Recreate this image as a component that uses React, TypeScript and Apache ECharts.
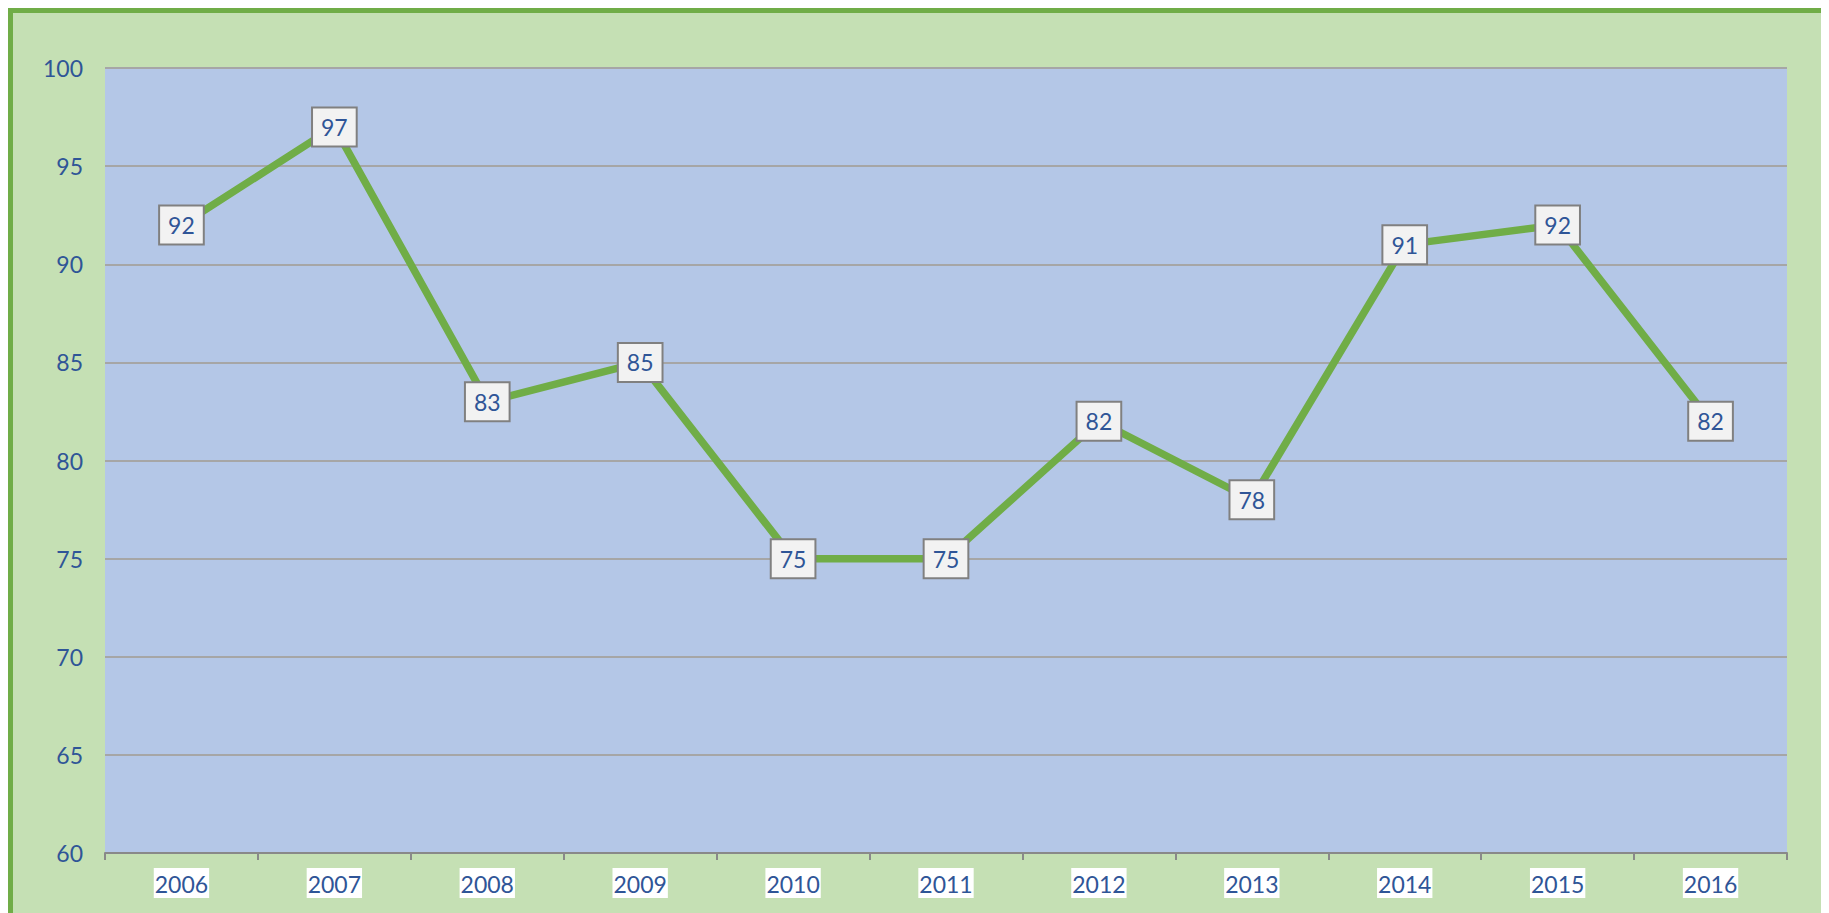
import React, { useEffect, useRef } from "react";
import * as echarts from "echarts";

const years = ["2006", "2007", "2008", "2009", "2010", "2011", "2012", "2013", "2014", "2015", "2016"];
const values = [92, 97, 83, 85, 75, 75, 82, 78, 91, 92, 82];
const yMin = 60;
const yMax = 100;
const yStep = 5;

const BW = 5; // border width
const W = 1818;
const H = 905;
const FONT = "Lato, 'Open Sans', sans-serif";
const TXT = "#2F5597";
const BORDER = "#70AD47";

export default function App() {
  const ref = useRef<HTMLDivElement>(null);
  useEffect(() => {
    if (!ref.current) return;
    const chart = echarts.init(ref.current, undefined, { renderer: "svg" });
    chart.setOption({
      animation: false,
      backgroundColor: "#C5E0B4",
      textStyle: { fontFamily: FONT },
      grid: {
        left: 97 - BW,
        top: 60 - BW,
        right: 39 - BW,
        bottom: 60,
        show: true,
        backgroundColor: "#B4C7E7",
        borderWidth: 0,
      },
      xAxis: {
        type: "category",
        data: years,
        boundaryGap: true,
        axisLine: { lineStyle: { color: "#898989", width: 2 } },
        axisTick: { show: true, length: 7, lineStyle: { color: "#898989", width: 2 } },
        axisLabel: {
          color: TXT,
          fontSize: 23,
          fontFamily: FONT,
          margin: 15,
          backgroundColor: "#FFFFFF",
          padding: [4, 1, 3, 1],
        },
        splitLine: { show: false },
      },
      yAxis: {
        type: "value",
        min: yMin,
        max: yMax,
        interval: yStep,
        axisLine: { show: false },
        axisTick: { show: false },
        axisLabel: { color: TXT, fontSize: 23, fontFamily: FONT, margin: 22 },
        splitLine: { show: true, lineStyle: { color: "#A6A6A6", width: 2 } },
      },
      series: [
        {
          type: "line",
          data: values,
          showSymbol: true,
          symbol: "circle",
          symbolSize: 1,
          lineStyle: { color: "#70AD47", width: 7.5 },
          itemStyle: { color: "#70AD47" },
          label: {
            show: true,
            position: "inside",
            color: TXT,
            fontSize: 23,
            fontFamily: FONT,
            backgroundColor: "#F2F2F2",
            borderColor: "#808080",
            borderWidth: 2,
            padding: [8, 8, 7, 8],
            lineHeight: 22,
          },
          z: 5,
        },
      ],
    });
    return () => chart.dispose();
  }, []);
  return (
    <div
      style={{
        width: W - 2 * BW,
        height: H - BW,
        borderTop: `${BW}px solid ${BORDER}`,
        borderLeft: `${BW}px solid ${BORDER}`,
        borderRight: `${BW}px solid ${BORDER}`,
        background: "#C5E0B4",
      }}
    >
      <div ref={ref} style={{ width: W - 2 * BW, height: H - BW }} />
    </div>
  );
}
